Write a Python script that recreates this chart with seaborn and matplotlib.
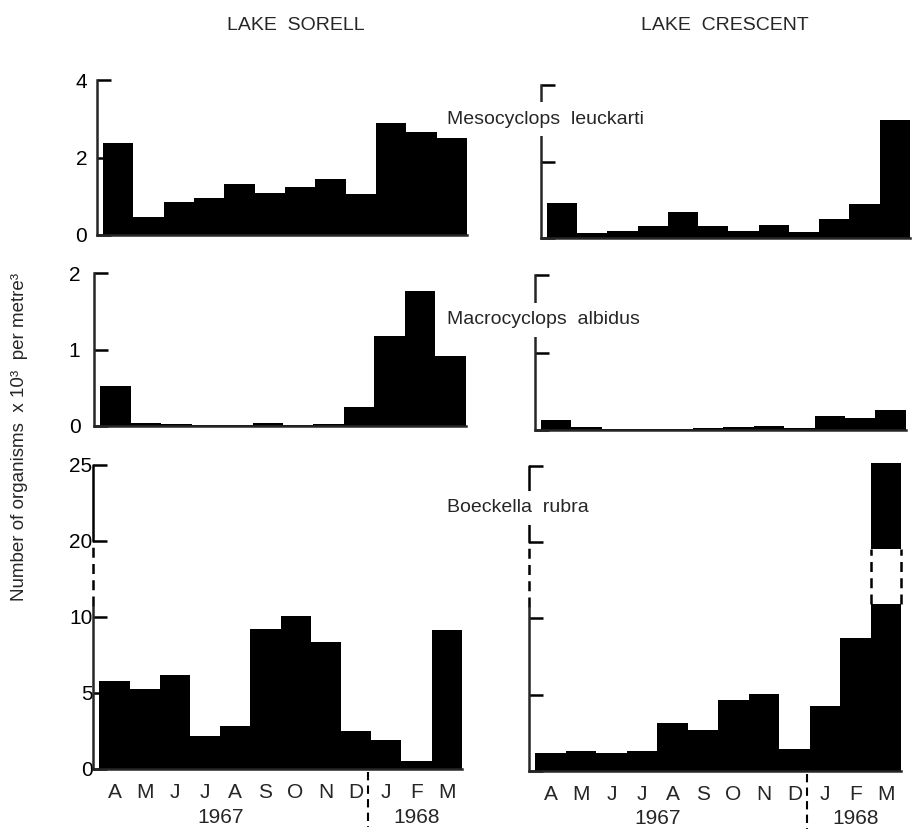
import numpy as np
import matplotlib.pyplot as plt
import matplotlib.transforms as mtransforms
from matplotlib.patches import Rectangle
import seaborn as sns

# months Apr 1967 .. Mar 1968
months = ['A', 'M', 'J', 'J', 'A', 'S', 'O', 'N', 'D', 'J', 'F', 'M']
years = ['1967', '1968']
n_1967 = 9
lakes = ['LAKE  SORELL', 'LAKE  CRESCENT']
species = ['Mesocyclops  leuckarti', 'Macrocyclops  albidus', 'Boeckella  rubra']

# numbers x 10^3 per m^3
sorell_meso = [2.37, 0.47, 0.86, 0.95, 1.32, 1.09, 1.25, 1.45, 1.05, 2.90, 2.67, 2.50]
crescent_meso = [0.92, 0.12, 0.19, 0.31, 0.69, 0.32, 0.19, 0.34, 0.15, 0.50, 0.89, 3.08]
sorell_macro = [0.52, 0.04, 0.02, 0.005, 0.01, 0.04, 0.005, 0.02, 0.24, 1.18, 1.77, 0.92]
crescent_macro = [0.13, 0.04, 0.01, 0.01, 0.01, 0.03, 0.04, 0.05, 0.03, 0.18, 0.16, 0.26]
sorell_boeck = [5.81, 5.26, 6.18, 2.17, 2.83, 9.21, 10.13, 8.33, 2.52, 1.91, 0.55, 9.14]
crescent_boeck = [1.18, 1.29, 1.14, 1.31, 3.14, 2.66, 4.67, 5.01, 1.40, 4.25, 8.72, 25.2]

sns.set_style('ticks')
plt.rcParams['font.family'] = ['Liberation Sans', 'DejaVu Sans']

W, H = 913, 834


def rect(l, r, t, b):
    return [l / W, 1 - b / H, (r - l) / W, (b - t) / H]


# broken y scale for the bottom row: 10-20 squeezed to half
def fwd(v):
    v = np.asarray(v, dtype=float)
    return np.where(v <= 10, v, np.where(v <= 20, 10 + (v - 10) / 2, v - 5))


def inv(d):
    d = np.asarray(d, dtype=float)
    return np.where(d <= 10, d, np.where(d <= 15, 10 + (d - 10) * 2, d + 5))


LW = 1.8
DASH = (0, (4, 2.5))


def draw(ax, values, ymax, yticks, labels, pad, broken=False):
    idx = np.arange(len(values))
    sns.barplot(x=idx, y=values, color='black', saturation=1, width=1.0,
                linewidth=0, ax=ax)
    for p in ax.patches:
        p.set_clip_on(False)
    if broken:
        ax.set_yscale('function', functions=(fwd, inv))
    ax.set_xlim(-0.7, len(values) - 0.5)
    ax.set_ylim(0, ymax)
    ax.set_yticks(yticks)
    ax.set_yticklabels([str(t) for t in yticks] if labels else [])
    ax.set_xlabel('')
    ax.set_ylabel('')
    sns.despine(ax=ax)
    for s in ['left', 'bottom']:
        ax.spines[s].set_linewidth(LW)
    ax.tick_params(axis='y', direction='in', length=10, width=LW, pad=pad,
                   labelsize=15, colors='black')
    ax.tick_params(axis='x', length=0)
    ax.set_xticks([])
    if broken:
        ax.spines['left'].set_bounds(0, 11.5)
        tr = ax.get_yaxis_transform()
        ax.plot([0, 0], [11.5, 20], transform=tr, color='black', lw=LW,
                ls=DASH, clip_on=False)
        ax.plot([0, 0], [20, 25], transform=tr, color='black', lw=LW,
                clip_on=False)
        for p in list(ax.patches):
            if p.get_height() > 20:
                x0, w = p.get_x(), p.get_width()
                ax.add_patch(Rectangle((x0, 11.9), w, 19.1 - 11.9,
                                       facecolor='white', edgecolor='none',
                                       clip_on=False, zorder=3))
                ax.vlines([x0, x0 + w], 11.9, 19.1, color='black', lw=LW,
                          linestyles=[DASH], clip_on=False, zorder=4)
        ax.set_xticks(idx)
        ax.set_xticklabels(months, fontsize=15)
        ax.tick_params(axis='x', length=0, pad=10)
        bt = mtransforms.blended_transform_factory(ax.transData, ax.transAxes)
        for pos, yr in zip([3.5, 10], years):
            ax.text(pos, -0.158, yr, transform=bt, ha='center', va='center',
                    fontsize=15)
        ax.plot([n_1967 - 0.6] * 2, [-0.01, -0.19], transform=bt,
                color='black', lw=1.5, ls=(0, (4, 2.5)), clip_on=False)


fig = plt.figure(figsize=(W / 100, H / 100), dpi=100)

ax_tl = fig.add_axes(rect(97, 467, 80, 235))
ax_tr = fig.add_axes(rect(540.7, 910, 85, 238))
ax_ml = fig.add_axes(rect(94.3, 465.7, 273.3, 425.7))
ax_mr = fig.add_axes(rect(535, 905.7, 275, 430))
ax_bl = fig.add_axes(rect(93.3, 461.7, 465, 769))
ax_br = fig.add_axes(rect(529.3, 901, 466, 770.7))

draw(ax_tl, sorell_meso, 4, [0, 2, 4], True, 7)
draw(ax_tr, crescent_meso, 4, [0, 2, 4], False, 7)
draw(ax_ml, sorell_macro, 2, [0, 1, 2], True, 10)
draw(ax_mr, crescent_macro, 2, [0, 1, 2], False, 10)
draw(ax_bl, sorell_boeck, 25, [0, 5, 10, 20, 25], True, 0.5, broken=True)
draw(ax_br, crescent_boeck, 25, [0, 5, 10, 20, 25], False, 0.5, broken=True)

# left column above the species labels, right column below them
for ax in [ax_tl, ax_ml, ax_bl]:
    ax.set_zorder(5)
    ax.patch.set_visible(False)

fig.text(296 / W, 1 - 26 / H, lakes[0], ha='center', va='center', fontsize=14)
fig.text(725 / W, 1 - 26 / H, lakes[1], ha='center', va='center', fontsize=14)

for name, y in zip(species, [119, 320, 508]):
    fig.text(447 / W, 1 - y / H, name, ha='left', va='center', fontsize=14,
             bbox=dict(facecolor='white', edgecolor='none', pad=6))

fig.text(20 / W, 1 - 437 / H, 'Number of organisms  x 10³  per metre³',
         rotation=90, ha='center', va='center', fontsize=13.5)

fig.savefig('out.png', dpi=100, facecolor='white')
